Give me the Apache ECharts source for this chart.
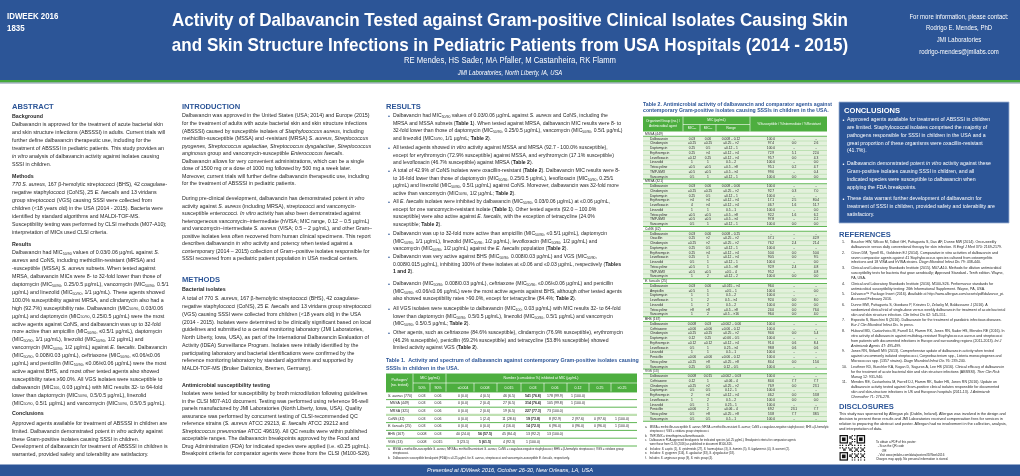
<!DOCTYPE html>
<html>
<head>
<meta charset="utf-8">
<title>Dalbavancin poster</title>
<script src="https://cdn.jsdelivr.net/npm/echarts@6.0.0/dist/echarts.min.js"></script>
<style>
html,body{margin:0;padding:0;background:#fff;}
#main{width:1020px;height:476px;}
</style>
</head>
<body>
<div id="main"></div>
<script>
// ---------------- DATA ----------------
const posterNumber = ['IDWEEK 2016', '1835'];
const titleLines = ['Activity of Dalbavancin Tested against Gram-positive Clinical Isolates Causing Skin',
  'and Skin Structure Infections in Pediatric Patients from USA Hospitals (2014 - 2015)'];
const authors = 'RE Mendes, HS Sader, MA Pfaller, M Castanheira, RK Flamm';
const affiliation = 'JMI Laboratories, North Liberty, IA, USA';
const contactLines = ['For more information, please contact:', 'Rodrigo E. Mendes, PhD', 'JMI Laboratories', 'rodrigo-mendes@jmilabs.com'];
const footerText = 'Presented at IDWeek 2016, October 26-30, New Orleans, LA, USA';

const abstractBackground = [
  'Dalbavancin is approved for the treatment of acute bacterial skin',
  'and skin structure infections (ABSSSI) in adults. Current trials will',
  'further define dalbavancin therapeutic use, including for the',
  'treatment of ABSSSI in pediatric patients. This study provides an',
  '{i|in vitro} analysis of dalbavancin activity against isolates causing',
  'SSSI in children.'];
const abstractMethods = [
  '{i|770 S. aureus}, 167 β-hemolytic streptococci (BHS), 42 coagulase-',
  'negative staphylococci (CoNS), 25 {i|E. faecalis} and 13 viridans',
  'group streptococci (VGS) causing SSSI were collected from',
  'children (<18 years old) in the USA (2014 - 2015). Bacteria were',
  'identified by standard algorithms and MALDI-TOF-MS.',
  'Susceptibility testing was performed by CLSI methods (M07-A10);',
  'interpretation of MICs used CLSI criteria.'];
const abstractResults = [
  'Dalbavancin had MIC{s|50/90} values of 0.03/0.06 µg/mL against {i|S.}',
  '{i|aureus} and CoNS, including methicillin-resistant (MRSA) and',
  '-susceptible (MSSA) {i|S. aureus} subsets. When tested against',
  'MRSA, dalbavancin MICs were 8- to 32-fold lower than those of',
  'daptomycin (MIC{s|50/90}, 0.25/0.5 µg/mL), vancomycin (MIC{s|50/90}, 0.5/1',
  'µg/mL) and linezolid (MIC{s|50/90}, 1/1 µg/mL). These agents showed',
  '100.0% susceptibility against MRSA, and clindamycin also had a',
  'high (92.7%) susceptibility rate. Dalbavancin (MIC{s|50/90}, 0.03/0.06',
  'µg/mL) and daptomycin (MIC{s|50/90}, 0.25/0.5 µg/mL) were the most',
  'active agents against CoNS, and dalbavancin was up to 32-fold',
  'more active than ampicillin (MIC{s|50/90}, ≤0.5/1 µg/mL), daptomycin',
  '(MIC{s|50/90}, 1/1 µg/mL), linezolid (MIC{s|50/90}, 1/2 µg/mL) and',
  'vancomycin (MIC{s|50/90}, 1/2 µg/mL) against {i|E. faecalis}. Dalbavancin',
  '(MIC{s|50/90}, 0.008/0.03 µg/mL), ceftriaxone (MIC{s|50/90}, ≤0.06/≤0.06',
  'µg/mL) and penicillin (MIC{s|50/90}, ≤0.06/≤0.06 µg/mL) were the most',
  'active against BHS, and most other tested agents also showed',
  'susceptibility rates ≥90.0%. All VGS isolates were susceptible to',
  'dalbavancin (MIC{s|100}, 0.03 µg/mL) with MIC results 32- to 64-fold',
  'lower than daptomycin (MIC{s|50/90}, 0.5/0.5 µg/mL), linezolid',
  '(MIC{s|50/90}, 0.5/1 µg/mL) and vancomycin (MIC{s|50/90}, 0.5/0.5 µg/mL).'];
const abstractConclusions = [
  'Approved agents available for treatment of ABSSSI in children are',
  'limited. Dalbavancin demonstrated potent {i|in vitro} activity against',
  'these Gram-positive isolates causing SSSI in children.',
  'Development of dalbavancin for treatment of ABSSSI in children is',
  'warranted, provided safety and tolerability are satisfactory.'];

const introPara1 = [
  'Dalbavancin was approved in the United States (USA; 2014) and Europe (2015)',
  'for the treatment of adults with acute bacterial skin and skin structure infections',
  '(ABSSSI) caused by susceptible isolates of {i|Staphylococcus aureus}, including',
  'methicillin-susceptible (MSSA) and -resistant (MRSA) {i|S. aureus}, {i|Streptococcus}',
  '{i|pyogenes}, {i|Streptococcus agalactiae}, {i|Streptococcus dysgalactiae}, {i|Streptococcus}',
  '{i|anginosus} group and vancomycin-susceptible {i|Enterococcus faecalis}.',
  'Dalbavancin allows for very convenient administrations, which can be a single',
  'dose of 1500 mg or a dose of 1000 mg followed by 500 mg a week later.',
  'Moreover, current trials will further define dalbavancin therapeutic use, including',
  'for the treatment of ABSSSI in pediatric patients.'];
const introPara2 = [
  'During pre-clinical development, dalbavancin has demonstrated potent {i|in vitro}',
  'activity against {i|S. aureus} (including MRSA), streptococci and vancomycin-',
  'susceptible enterococci. {i|In vitro} activity has also been demonstrated against',
  'heterogeneous vancomycin–intermediate (hVISA; MIC range, 0.12 – 0.5 µg/mL)',
  'and vancomycin–intermediate {i|S. aureus} (VISA; 0.5 – 2 µg/mL), and other Gram–',
  'positive isolates less often recovered from human clinical specimens. This report',
  'describes dalbavancin {i|in vitro} activity and potency when tested against a',
  'contemporary (2014 – 2015) collection of Gram–positive isolates responsible for',
  'SSSI recovered from a pediatric patient population in USA medical centers.'];
const methodsIsolates = [
  'A total of 770 {i|S. aureus}, 167 β-hemolytic streptococci (BHS), 42 coagulase-',
  'negative staphylococci (CoNS), 25 {i|E. faecalis} and 13 viridans group streptococci',
  '(VGS) causing SSSI were collected from children (<18 years old) in the USA',
  '(2014 - 2015). Isolates were determined to be clinically significant based on local',
  'guidelines and submitted to a central monitoring laboratory (JMI Laboratories,',
  'North Liberty, Iowa, USA), as part of the International Dalbavancin Evaluation of',
  'Activity (IDEA) Surveillance Program. Isolates were initially identified by the',
  'participating laboratory and bacterial identifications were confirmed by the',
  'reference monitoring laboratory by standard algorithms and supported by',
  'MALDI-TOF-MS (Bruker Daltonics, Bremen, Germany).'];
const methodsTesting = [
  'Isolates were tested for susceptibility by broth microdilution following guidelines',
  'in the CLSI M07-A10 document. Testing was performed using reference 96-well',
  'panels manufactured by JMI Laboratories (North Liberty, Iowa, USA). Quality',
  'assurance was performed by concurrent testing of CLSI-recommended QC',
  'reference strains ({i|S. aureus} ATCC 29213, {i|E. faecalis} ATCC 29212 and',
  '{i|Streptococcus pneumoniae} ATCC 49619). All QC results were within published',
  'acceptable ranges. The dalbavancin breakpoints approved by the Food and',
  'Drug Administration (FDA) for indicated species were applied (i.e. ≤0.25 µg/mL).',
  'Breakpoint criteria for comparator agents were those from the CLSI (M100-S26).'];

const resultsBullets = [
  ['Dalbavancin had MIC{s|50/90} values of 0.03/0.06 µg/mL against {i|S. aureus} and CoNS, including the',
   'MRSA and MSSA subsets ({b|Table 1}). When tested against MRSA, dalbavancin MIC results were 8- to',
   '32-fold lower than those of daptomycin (MIC{s|50/90}, 0.25/0.5 µg/mL), vancomycin (MIC{s|50/90}, 0.5/1 µg/mL)',
   'and linezolid (MIC{s|50/90}, 1/1 µg/mL; {b|Table 2}).'],
  ['All tested agents showed {i|in vitro} activity against MSSA and MRSA (92.7 - 100.0% susceptible),',
   'except for erythromycin (72.9% susceptible) against MSSA, and erythromycin (17.1% susceptible)',
   'and levofloxacin (46.7% susceptible) against MRSA ({b|Table 2}).'],
  ['A total of 42.9% of CoNS isolates were oxacillin-resistant ({b|Table 2}). Dalbavancin MIC results were 8-',
   'to 16-fold lower than those of daptomycin (MIC{s|50/90}, 0.25/0.5 µg/mL), levofloxacin (MIC{s|50/90}, 0.25/1',
   'µg/mL) and linezolid (MIC{s|50/90}, 0.5/1 µg/mL) against CoNS. Moreover, dalbavancin was 32-fold more',
   'active than vancomycin (MIC{s|50/90}, 1/2 µg/mL; {b|Table 2}).'],
  ['All {i|E. faecalis} isolates were inhibited by dalbavancin (MIC{s|50/90}, 0.03/0.06 µg/mL) at ≤0.06 µg/mL,',
   'except for one vancomycin-resistant isolate ({b|Table 1}). Other tested agents (92.0 – 100.0%',
   'susceptible) were also active against {i|E. faecalis}, with the exception of tetracycline (24.0%',
   'susceptible; {b|Table 2}).'],
  ['Dalbavancin was up to 32-fold more active than ampicillin (MIC{s|50/90}, ≤0.5/1 µg/mL), daptomycin',
   '(MIC{s|50/90}, 1/1 µg/mL), linezolid (MIC{s|50/90}, 1/2 µg/mL), levofloxacin (MIC{s|50/90}, 1/2 µg/mL) and',
   'vancomycin (MIC{s|50/90}, 1/2 µg/mL) against the {i|E. faecalis} population ({b|Table 2}).'],
  ['Dalbavancin was very active against BHS (MIC{s|50/90}, 0.008/0.03 µg/mL) and VGS (MIC{s|50/90},',
   '0.008/0.015 µg/mL), inhibiting 100% of these isolates at ≤0.06 and ≤0.03 µg/mL, respectively ({b|Tables}',
   '{b|1 and 2}).'],
  ['Dalbavancin (MIC{s|50/90}, 0.008/0.03 µg/mL), ceftriaxone (MIC{s|50/90}, ≤0.06/≤0.06 µg/mL) and penicillin',
   '(MIC{s|50/90}, ≤0.06/≤0.06 µg/mL) were the most active agents against BHS, although other tested agents',
   'also showed susceptibility rates >90.0%, except for tetracycline (84.4%; {b|Table 2}).'],
  ['All VGS isolates were susceptible to dalbavancin (MIC{s|100}, 0.03 µg/mL) with MIC results 32- to 64-fold',
   'lower than daptomycin (MIC{s|50/90}, 0.5/0.5 µg/mL), linezolid (MIC{s|50/90}, 0.5/1 µg/mL) and vancomycin',
   '(MIC{s|50/90}, 0.5/0.5 µg/mL; {b|Table 2}).'],
  ['Other agents, such as ceftriaxone (84.6% susceptible), clindamycin (76.9% susceptible), erythromycin',
   '(46.2% susceptible), penicillin (69.2% susceptible) and tetracycline (53.8% susceptible) showed',
   'limited activity against VGS ({b|Table 2}).']];

// Table 1
const table1Title = ['Table 1.  Activity and spectrum of dalbavancin against contemporary Gram-positive isolates causing',
  'SSSIs in children in the USA.'];
const table1MicColumns = ['≤0.004', '0.008', '0.015', '0.03', '0.06', '0.12', '0.25', '>0.25'];
const table1Pathogens = ['{i|S. aureus} (770)', '  MSSA (449)', '  MRSA (321)', 'CoNS (42)', '{i|E. faecalis} (25)', 'BHS (167)', 'VGS (13)'];
const table1MIC50 = ['0.03', '0.03', '0.03', '0.03', '0.03', '0.008', '0.008'];
const table1MIC90 = ['0.06', '0.06', '0.06', '0.06', '0.06', '0.03', '0.015'];
const table1Counts = [
  ['0 (0.0)', '4 (0.5)', '46 (6.5)', '541 (76.8)', '178 (99.9)', '1 (100.0)', '', ''],
  ['0 (0.0)', '2 (0.4)', '27 (6.5)', '314 (76.4)', '105 (99.8)', '1 (100.0)', '', ''],
  ['0 (0.0)', '2 (0.6)', '19 (6.5)', '227 (77.3)', '73 (100.0)', '', '', ''],
  ['0 (0.0)', '1 (2.4)', '11 (28.6)', '19 (73.8)', '8 (92.9)', '2 (97.6)', '0 (97.6)', '1 (100.0)'],
  ['0 (0.0)', '0 (0.0)', '4 (16.0)', '14 (72.0)', '6 (96.0)', '0 (96.0)', '0 (96.0)', '1 (100.0)'],
  ['40 (24.0)', '56 (57.5)', '45 (84.4)', '13 (92.2)', '13 (100.0)', '', '', ''],
  ['3 (23.1)', '5 (61.5)', '4 (92.3)', '1 (100.0)', '', '', '', '']];
const table1Notes = [
  'a.   MSSA = methicillin-susceptible {i|S. aureus}; MRSA = methicillin-resistant {i|S. aureus}; CoNS = coagulase-negative staphylococci; BHS = β-hemolytic streptococci; VGS = viridans group',
  '      streptococci.',
  'b.   Dalbavancin susceptible breakpoint (FDA) is ≤0.25 µg/mL for {i|S. aureus}, streptococci and vancomycin-susceptible {i|E. faecalis}, respectively.'];

// Table 2
const table2Title = ['Table 2. Antimicrobial activity of dalbavancin and comparator agents against',
  'contemporary Gram-positive isolates causing SSSIs in children in the USA.'];
const table2Groups = ['MSSA (449)', 'MRSA (321)', 'CoNS (42)', '{i|E. faecalis} (25)', 'BHS (167)', 'VGS (13)'];
const table2MSSA = [
  ['Dalbavancin', '0.03', '0.06', '0.008 – 0.12', '100.0', '-', '-'],
  ['Clindamycin', '≤0.25', '≤0.25', '≤0.25 – >2', '97.4', '0.0', '2.6'],
  ['Daptomycin', '0.25', '0.5', '≤0.12 – 1', '100.0', '-', '-'],
  ['Erythromycin', '0.25', '>4', '≤0.12 – >4', '72.9', '5.1', '22.0'],
  ['Levofloxacin', '≤0.12', '0.25', '≤0.12 – >4', '95.7', '0.0', '4.3'],
  ['Linezolid', '1', '1', '0.5 – 2', '100.0', '-', '0.0'],
  ['Tetracycline', '≤0.5', '≤0.5', '≤0.5 – >8', '95.1', '0.2', '4.7'],
  ['TMP-SMX', '≤0.5', '≤0.5', '≤0.5 – >4', '99.6', '-', '0.4'],
  ['Vancomycin', '0.5', '1', '≤0.12 – 1', '100.0', '0.0', '0.0']];
const table2MRSA = [
  ['Dalbavancin', '0.03', '0.06', '0.008 – 0.06', '100.0', '-', '-'],
  ['Clindamycin', '≤0.25', '≤0.25', '≤0.25 – >2', '92.7', '0.3', '7.0'],
  ['Daptomycin', '0.25', '0.5', '≤0.12 – 1', '100.0', '-', '-'],
  ['Erythromycin', '>4', '>4', '≤0.12 – >4', '17.1', '2.5', '80.4'],
  ['Levofloxacin', '4', '>4', '≤0.12 – >4', '46.7', '1.6', '51.7'],
  ['Linezolid', '1', '1', '0.5 – 1', '100.0', '-', '0.0'],
  ['Tetracycline', '≤0.5', '≤0.5', '≤0.5 – >8', '92.2', '1.6', '6.2'],
  ['TMP-SMX', '≤0.5', '≤0.5', '≤0.5 – >4', '97.8', '-', '2.2'],
  ['Vancomycin', '0.5', '1', '≤0.12 – 1', '100.0', '0.0', '0.0']];
const table2CoNS = [
  ['Dalbavancin', '0.03', '0.06', '0.008 – 0.25', '-', '-', '-'],
  ['Oxacillin', '0.25', '>2', '≤0.25 – >2', '57.1', '-', '42.9'],
  ['Clindamycin', '≤0.25', '>2', '≤0.25 – >2', '76.2', '2.4', '21.4'],
  ['Daptomycin', '0.25', '0.5', '≤0.12 – 1', '100.0', '-', '-'],
  ['Erythromycin', '0.25', '>4', '≤0.12 – >4', '50.0', '0.0', '50.0'],
  ['Levofloxacin', '0.25', '1', '≤0.12 – >4', '90.5', '0.0', '9.5'],
  ['Linezolid', '0.5', '1', '≤0.12 – 1', '100.0', '-', '0.0'],
  ['Tetracycline', '≤0.5', '1', '≤0.5 – >8', '92.9', '2.4', '4.8'],
  ['TMP-SMX', '≤0.5', '≤0.5', '≤0.5 – 4', '95.2', '-', '4.8'],
  ['Vancomycin', '1', '2', '≤0.12 – 2', '100.0', '0.0', '0.0']];
const table2Efaecalis = [
  ['Dalbavancin', '0.03', '0.06', '≤0.015 – >4', '96.0', '-', '-'],
  ['Ampicillin', '≤0.5', '1', '≤0.5 – 1', '100.0', '-', '0.0'],
  ['Daptomycin', '1', '1', '0.5 – 2', '100.0', '-', '-'],
  ['Levofloxacin', '1', '2', '0.5 – >4', '92.0', '0.0', '8.0'],
  ['Linezolid', '1', '2', '0.5 – 2', '100.0', '0.0', '0.0'],
  ['Tetracycline', '>8', '>8', '≤0.5 – >8', '24.0', '0.0', '76.0'],
  ['Vancomycin', '1', '2', '≤0.5 – >16', '96.0', '0.0', '4.0']];
const table2BHS = [
  ['Dalbavancin', '0.008', '0.03', '≤0.002 – 0.06', '100.0', '-', '-'],
  ['Ceftriaxone', '≤0.06', '≤0.06', '≤0.06 – 0.12', '100.0', '-', '-'],
  ['Clindamycin', '≤0.25', '≤0.25', '≤0.25 – >2', '94.6', '0.0', '5.4'],
  ['Daptomycin', '0.12', '0.25', '≤0.06 – 0.5', '100.0', '-', '-'],
  ['Erythromycin', '≤0.12', '≤0.12', '≤0.12 – >4', '91.0', '0.6', '8.4'],
  ['Levofloxacin', '0.5', '1', '0.25 – >4', '98.8', '0.6', '0.6'],
  ['Linezolid', '1', '1', '0.5 – 1', '100.0', '-', '-'],
  ['Penicillin', '≤0.06', '≤0.06', '≤0.06 – 0.12', '100.0', '-', '-'],
  ['Tetracycline', '≤0.25', '>8', '≤0.25 – >8', '84.4', '0.0', '15.6'],
  ['Vancomycin', '0.25', '0.5', '0.12 – 0.5', '100.0', '-', '-']];
const table2VGS = [
  ['Dalbavancin', '0.008', '0.015', '≤0.002 – 0.03', '100.0', '-', '-'],
  ['Ceftriaxone', '0.12', '1', '≤0.06 – 4', '84.6', '7.7', '7.7'],
  ['Clindamycin', '≤0.25', '>2', '≤0.25 – >2', '76.9', '0.0', '23.1'],
  ['Daptomycin', '0.5', '0.5', '0.12 – 1', '100.0', '-', '-'],
  ['Erythromycin', '2', '>4', '≤0.12 – >4', '46.2', '0.0', '53.8'],
  ['Levofloxacin', '1', '2', '0.5 – 2', '100.0', '0.0', '0.0'],
  ['Linezolid', '0.5', '1', '0.25 – 1', '100.0', '-', '-'],
  ['Penicillin', '≤0.06', '2', '≤0.06 – 4', '69.2', '23.1', '7.7'],
  ['Tetracycline', '0.5', '>8', '≤0.25 – >8', '53.8', '7.7', '38.5'],
  ['Vancomycin', '0.5', '0.5', '0.5 – 1', '100.0', '-', '-']];
const table2Notes = [
  'a.   MSSA = methicillin-susceptible {i|S. aureus}; MRSA = methicillin-resistant {i|S. aureus}; CoNS = coagulase-negative staphylococci; BHS = β-hemolytic',
  '      streptococci; VGS = viridans group streptococci.',
  'b.   TMP-SMX = trimethoprim-sulfamethoxazole.',
  'c.   Dalbavancin FDA-approved breakpoints for indicated species (≤0.25 µg/mL). Breakpoint criteria for comparator agents',
  '      were those from CLSI (2016) as published in document M100-S26.',
  'd.   Includes: {i|S. capitis} (1), {i|S. epidermidis} (27), {i|S. haemolyticus} (3), {i|S. hominis} (5), {i|S. lugdunensis} (4), {i|S. warneri} (2).',
  'e.   Includes: {i|S. pyogenes} (116), {i|S. agalactiae} (33), {i|S. dysgalactiae} (18).',
  'f.   Includes: {i|S. anginosus} group (9), {i|S. mitis} group (4).'];

const conclusionBullets = [
  ['Approved agents available for treatment of ABSSSI in children',
   'are limited. Staphylococcal isolates comprised the majority of',
   'pathogens responsible for SSSI in children in the USA and a',
   'great proportion of these organisms were oxacillin-resistant',
   '(41.7%).'],
  ['Dalbavancin demonstrated potent {i|in vitro} activity against these',
   'Gram-positive isolates causing SSSI in children, and all',
   'indicated species were susceptible to dalbavancin when',
   'applying the FDA breakpoints.'],
  ['These data warrant further development of dalbavancin for',
   'treatment of SSSI in children, provided safety and tolerability are',
   'satisfactory.']];

const references = [
  ['Boucher HW, Wilcox M, Talbot GH, Puttagunta S, Das AF, Dunne MW (2014). Once-weekly',
   'dalbavancin versus daily conventional therapy for skin infection. {i|N Engl J Med} 370: 2169-2179.'],
  ['Citron DM, Tyrrell KL, Goldstein EJ (2014). Comparative in vitro activities of dalbavancin and',
   'seven comparator agents against 41 Staphylococcus species cultured from osteomyelitis',
   'infections and 18 VISA and hVISA strains. {i|Diagn Microbiol Infect Dis} 79: 438-440.'],
  ['Clinical and Laboratory Standards Institute (2015). M07-A10. Methods for dilution antimicrobial',
   'susceptibility tests for bacteria that grow aerobically; Approved Standard - Tenth edition. Wayne,',
   'PA, USA.'],
  ['Clinical and Laboratory Standards Institute (2016). M100-S26. Performance standards for',
   'antimicrobial susceptibility testing: 26th Informational Supplement. Wayne, PA, USA.'],
  ['Dalvance™ Package Insert (2016). Available at http://www.allergan.com/assets/pdf/dalvance_pi.',
   'Accessed February 2016.'],
  ['Dunne MW, Puttagunta S, Giordano P, Krievins D, Zelasky M, Baldassarre J (2016). A',
   'randomized clinical trial of single-dose versus weekly dalbavancin for treatment of acute bacterial',
   'skin and skin structure infection. {i|Clin Infect Dis} 62: 545-551.'],
  ['Esposito S, Bianchini S (2016). Dalbavancin for the treatment of paediatric infectious diseases.',
   '{i|Eur J Clin Microbiol Infect Dis}. In press.'],
  ['Huband MD, Castanheira M, Farrell DJ, Flamm RK, Jones RN, Sader HS, Mendes RE (2016). In',
   'vitro activity of dalbavancin against multidrug-resistant Staphylococcus aureus and streptococci',
   'from patients with documented infections in Europe and surrounding regions (2011-2013). {i|Int J}',
   '{i|Antimicrob Agents} 47: 495-499.'],
  ['Jones RN, Stilwell MG (2013). Comprehensive update of dalbavancin activity when tested',
   'against uncommonly isolated streptococci, Corynebacterium spp., Listeria monocytogenes and',
   'Micrococcus spp. (1357 strains). {i|Diagn Microbiol Infect Dis} 76: 239-240.'],
  ['Leuthner KD, Buechler KA, Kogan D, Saguros A, Lee HS (2016). Clinical efficacy of dalbavancin',
   'for the treatment of acute bacterial skin and skin structure infections (ABSSSI). {i|Ther Clin Risk}',
   '{i|Manag} 12: 931-940.'],
  ['Mendes RE, Castanheira M, Farrell DJ, Flamm RK, Sader HS, Jones RN (2016). Update on',
   'dalbavancin activity tested against Gram-positive clinical isolates responsible for documented',
   'skin and skin-structure infections in US and European hospitals (2011-13). {i|J Antimicrob}',
   '{i|Chemother} 71: 276-278.']];
const disclosureLines = [
  'This study was sponsored by Allergan plc (Dublin, Ireland). Allergan was involved in the design and',
  'decision to present these results and JMI Laboratories received compensation fees for services in',
  'relation to preparing the abstract and poster. Allergan had no involvement in the collection, analysis,',
  'and interpretation of data.'];
const qrNote = ['To obtain a PDF of this poster:', '  - Scan the QR code', '       OR', '  - Visit www.jmilabs.com/data/posters/IDWeek2016', 'Charges may apply. No personal information is stored.'];

// ---------------- STYLE / LAYOUT ----------------
const F = "'Liberation Sans', Arial, Helvetica, sans-serif";
const BLUE = '#2C5597';
const GREEN = '#4DAE3F';
const LGREEN = '#BFE0B2';
const TXT = '#262626';
const els = [];
const measureCtx = document.createElement('canvas').getContext('2d');
function textWidth(text, font) { measureCtx.font = font; return measureCtx.measureText(text).width; }

function rich(fs, c, ff) {
  return {
    s: {fontSize: fs * 0.68, fill: c, fontFamily: ff, padding: [fs * 0.45, 0, 0, 0]},
    i: {fontSize: fs, fill: c, fontFamily: ff, fontStyle: 'italic'},
    b: {fontSize: fs, fill: c, fontFamily: ff, fontWeight: 'bold'}
  };
}
function T(x, y, text, o) {
  o = o || {};
  const fs = o.fs || 5.1, c = o.c || TXT, ff = o.ff || F, al = o.al || 'left';
  els.push({type: 'text', x: x, y: y, scaleX: o.sx || 1, silent: true, z: 10,
    style: {text: text, fill: c, fontSize: fs, fontFamily: ff, fontWeight: o.fw || 'normal',
      fontStyle: o.fst || 'normal', align: al, textAlign: al, verticalAlign: 'middle', textVerticalAlign: 'middle',
      rich: rich(fs, c, ff)}});
}
function R(x, y, w, h, fill, stroke, lw) {
  els.push({type: 'rect', silent: true, z: 1, shape: {x: x, y: y, width: w, height: h},
    style: {fill: fill, stroke: stroke || null, lineWidth: lw || 0}});
}
function L(x1, y1, x2, y2, stroke, lw) {
  els.push({type: 'line', silent: true, z: 2, shape: {x1: x1, y1: y1, x2: x2, y2: y2}, style: {stroke: stroke, lineWidth: lw || 1}});
}
function block(x, y0, step, lines, o) { lines.forEach((l, i) => T(x, y0 + i * step, l, o)); }

// ---------------- HEADER ----------------
R(0, 0, 1020, 80, BLUE);
R(0, 80, 1020, 2.6, '#45A83A');
R(0, 82.6, 1020, 1, '#7F8FA8');
T(7, 17, posterNumber[0], {fs: 8.6, fw: 'bold', c: '#fff', sx: 0.92});
T(7, 29, posterNumber[1], {fs: 8.6, fw: 'bold', c: '#fff', sx: 0.92});
(function () {
  const fs = 19;
  const sx = 676 / textWidth(titleLines[0], 'bold ' + fs + 'px ' + F);
  T(510, 21, titleLines[0], {fs: fs, fw: 'bold', c: '#fff', al: 'center', sx: sx});
  T(510, 46, titleLines[1], {fs: fs, fw: 'bold', c: '#fff', al: 'center', sx: sx});
  const s2 = 212 / textWidth(authors, '8.4px ' + F);
  T(510, 61, authors, {fs: 8.4, c: '#fff', al: 'center', sx: s2});
  T(510, 73, affiliation, {fs: 6.4, c: '#fff', al: 'center', fst: 'italic', sx: s2});
  contactLines.forEach((l, i) => T(959, 17 + i * 11.7, l, {fs: 6.5, c: '#fff', al: 'center', sx: s2}));
})();

// ---------------- FOOTER ----------------
R(0, 464.5, 1020, 11.5, BLUE);
T(510, 470.5, footerText, {fs: 5.6, c: '#fff', al: 'center', fst: 'italic'});

// ---------------- ABSTRACT ----------------
const H = {fs: 7.6, fw: 'bold', c: BLUE};
const SUB = {fs: 5.3, fw: 'bold'};
const BODY = {fs: 5.3};
T(12, 107, 'ABSTRACT', H);
T(12, 117, 'Background', SUB);
block(12, 125, 8.0, abstractBackground, BODY);
T(12, 177, 'Methods', SUB);
block(12, 185, 7.85, abstractMethods, BODY);
T(12, 245, 'Results', SUB);
block(12, 253, 7.9, abstractResults, BODY);
T(12, 414, 'Conclusions', SUB);
block(12, 423.5, 7.8, abstractConclusions, BODY);

// ---------------- INTRODUCTION / METHODS ----------------
T(182, 107, 'INTRODUCTION', H);
block(182, 116, 7.55, introPara1, BODY);
block(182, 199, 7.5, introPara2, BODY);
T(182, 280, 'METHODS', H);
T(182, 290, 'Bacterial isolates', SUB);
block(182, 299, 7.75, methodsIsolates, BODY);
T(182, 386, 'Antimicrobial susceptibility testing', SUB);
block(182, 394, 7.5, methodsTesting, BODY);

// ---------------- RESULTS ----------------
T(386, 107, 'RESULTS', H);
const bulletY = [116, 148, 171, 202, 234, 257, 284, 309, 333];
resultsBullets.forEach((lines, k) => {
  T(388, bulletY[k], '•', {fs: 5.6, c: BLUE});
  block(393, bulletY[k], 7.4, lines, {fs: 5.1});
});
block(386, 361, 7.4, table1Title, {fs: 5.3, fw: 'bold', c: BLUE});

// ---------------- TABLE 1 ----------------
(function () {
  const x0 = 386, x1 = 637, top = 373.5, mid = 383, bot = 392;
  const micX = [422, 438];
  const valX = [463, 485, 509, 533, 555, 578, 600, 622];
  const rowY = [395.8, 403.4, 411, 418.8, 426.5, 434.3, 442.1];
  const fs = 3.5;
  R(x0, top, x1 - x0, bot - top, GREEN);
  L(413, top, 413, bot, '#fff', 0.6);
  L(446, top, 446, bot, '#fff', 0.6);
  L(413, mid, x1, mid, '#fff', 0.6);
  [430, 474, 497, 521, 544, 567, 589, 611].forEach(v => L(v, mid, v, bot, '#fff', 0.6));
  T(399.5, 380, 'Pathogen/', {fs: fs, c: '#fff', al: 'center'});
  T(399.5, 385.5, '(no. tested)', {fs: fs, c: '#fff', al: 'center'});
  T(430, 378.3, 'MIC (µg/mL)', {fs: fs, c: '#fff', al: 'center'});
  T(541, 378.3, 'Number (cumulative %) inhibited at MIC (µg/mL)', {fs: fs, c: '#fff', al: 'center'});
  T(micX[0], 387.6, '50%', {fs: fs, c: '#fff', al: 'center'});
  T(micX[1], 387.6, '90%', {fs: fs, c: '#fff', al: 'center'});
  table1MicColumns.forEach((c, j) => T(valX[j], 387.6, c, {fs: fs, c: '#fff', al: 'center'}));
  const bounds = [392, 399.6, 407.2, 414.9, 422.6, 430.4, 438.2, 446];
  bounds.forEach((b, i) => L(x0, b, x1, b, i === 3 ? LGREEN : GREEN, i === 3 ? 2.2 : 0.9));
  table1Pathogens.forEach((p, i) => {
    T(388, rowY[i], p, {fs: fs});
    T(micX[0], rowY[i], table1MIC50[i], {fs: fs, al: 'center'});
    T(micX[1], rowY[i], table1MIC90[i], {fs: fs, al: 'center'});
    let boldDone = false;
    table1Counts[i].forEach((v, j) => {
      if (!v) return;
      const pct = parseFloat(v.split('(')[1]);
      let fw = 'normal';
      if (!boldDone && pct >= 50) { fw = 'bold'; boldDone = true; }
      T(valX[j], rowY[i], v, {fs: fs, al: 'center', fw: fw});
    });
  });
  block(388, 449.5, 4.2, table1Notes, {fs: 2.9});
})();

// ---------------- TABLE 2 ----------------
(function () {
  const x0 = 643, x1 = 827, top = 116.5, mid = 124.5, bot = 131.5;
  const colX = [692, 708, 731, 771, 794, 816];
  const rowH = 4.75, fs = 3.3;
  block(643, 104.5, 6, table2Title, {fs: 5.2, fw: 'bold', c: BLUE});
  R(x0, top, x1 - x0, bot - top, GREEN);
  L(683, top, 683, bot, '#fff', 0.6);
  L(750, top, 750, bot, '#fff', 0.6);
  L(683, mid, 750, mid, '#fff', 0.6);
  L(700, mid, 700, bot, '#fff', 0.6);
  L(716, mid, 716, bot, '#fff', 0.6);
  T(663, 121.5, 'Organism/Group (no.) /', {fs: fs, c: '#fff', al: 'center'});
  T(663, 126.5, 'Antimicrobial agent', {fs: fs, c: '#fff', al: 'center'});
  T(716.5, 120.5, 'MIC (µg/mL)', {fs: fs, c: '#fff', al: 'center'});
  T(colX[0], 128, 'MIC{s|50}', {fs: fs, c: '#fff', al: 'center'});
  T(colX[1], 128, 'MIC{s|90}', {fs: fs, c: '#fff', al: 'center'});
  T(colX[2], 128, 'Range', {fs: fs, c: '#fff', al: 'center'});
  T(789, 124, '%Susceptible / %Intermediate / %Resistant', {fs: fs, c: '#fff', al: 'center'});
  const groups = [table2MSSA, table2MRSA, table2CoNS, table2Efaecalis, table2BHS, table2VGS];
  let r = 0;
  const y0 = bot;
  groups.forEach((rows, g) => {
    const gy = y0 + rowH * r;
    T(645, gy + rowH / 2, table2Groups[g], {fs: fs});
    L(x0, gy + rowH, x1, gy + rowH, GREEN, 0.9);
    r++;
    rows.forEach((row, k) => {
      const ry = y0 + rowH * r;
      R(x0, ry + 0.5, x1 - x0, rowH - 1, '#E3F1DC');
      T(650, ry + rowH / 2, row[0], {fs: fs});
      for (let j = 1; j < 7; j++) T(colX[j - 1], ry + rowH / 2, row[j], {fs: fs, al: 'center'});
      L(x0, ry + rowH, x1, ry + rowH, k === rows.length - 1 ? GREEN : '#8FCB7E', k === rows.length - 1 ? 0.9 : 0.6);
      r++;
    });
  });
  block(645, 427, 4.4, table2Notes, {fs: 2.8});
})();

// ---------------- CONCLUSIONS ----------------
R(839, 102, 170, 121, BLUE, '#9DB1D3', 0.8);
T(844, 111, 'CONCLUSIONS', {fs: 7.6, fw: 'bold', c: '#fff'});
const cbY = [120, 164, 199];
conclusionBullets.forEach((lines, k) => {
  T(842.5, cbY[k], '•', {fs: 5.6, c: '#fff'});
  block(847, cbY[k], 7.7, lines, {fs: 5.2, c: '#fff'});
});

// ---------------- REFERENCES ----------------
T(839, 235, 'REFERENCES', H);
(function () {
  let line = 0;
  references.forEach((ref, k) => {
    const y = 242 + line * 4.9 + k * 0.8;
    T(842, y, (k + 1) + '.', {fs: 3.6});
    block(851, y, 4.9, ref, {fs: 3.6});
    line += ref.length;
  });
})();
T(839, 407, 'DISCLOSURES', H);
block(839, 414, 5, disclosureLines, {fs: 3.8});

// QR code (decorative)
(function () {
  const x0 = 839.5, y0 = 435, n = 21, m = 1.22;
  R(x0 - 1, y0 - 1, n * m + 2, n * m + 2, '#fff');
  function finder(cx, cy) {
    R(x0 + cx * m, y0 + cy * m, 7 * m, 7 * m, '#111');
    R(x0 + (cx + 1) * m, y0 + (cy + 1) * m, 5 * m, 5 * m, '#fff');
    R(x0 + (cx + 2) * m, y0 + (cy + 2) * m, 3 * m, 3 * m, '#111');
  }
  finder(0, 0); finder(14, 0); finder(0, 14);
  for (let i = 0; i < n; i++) for (let j = 0; j < n; j++) {
    const inF = (i < 8 && j < 8) || (i < 8 && j > 12) || (i > 12 && j < 8);
    if (inF) continue;
    if (((i * 7 + j * 13 + i * j * 3) % 5) < 2) R(x0 + j * m, y0 + i * m, m, m, '#111');
  }
  block(876, 442, 4.4, qrNote, {fs: 3});
})();

const chart = echarts.init(document.getElementById('main'), null, {renderer: 'canvas'});
chart.setOption({backgroundColor: '#ffffff', animation: false, graphic: {elements: els}});
</script>
</body>
</html>
